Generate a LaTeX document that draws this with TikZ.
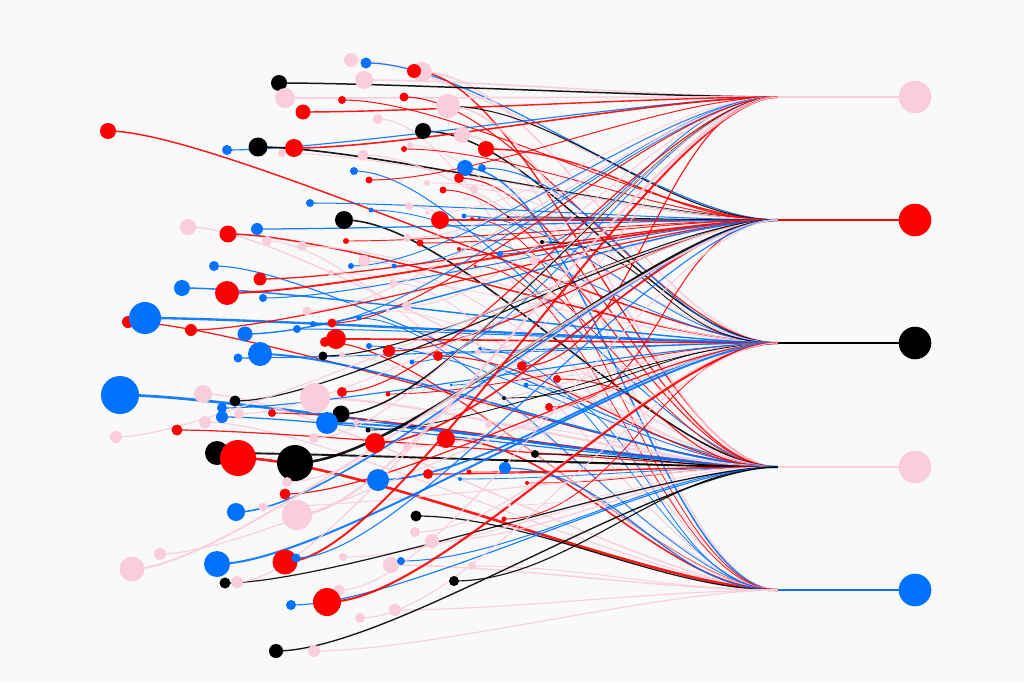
\documentclass[tikz,border=0pt]{standalone}
\definecolor{bgc}{RGB}{249,249,249}
\definecolor{cred}{RGB}{255,0,0}
\definecolor{cblue}{RGB}{0,114,255}
\definecolor{cpink}{RGB}{249,205,218}
\definecolor{cblack}{RGB}{0,0,0}
\pgfdeclarelayer{bg}
\pgfsetlayers{bg,main}
\begin{document}
\begin{tikzpicture}[x=1pt,y=-1pt,
  dot/.style={circle,inner sep=0pt,minimum size=#1*2pt,draw=none},
  link/.style={line width=#1pt,opacity=0.9},
  hub/.style={line width=1.7pt}]
\begin{pgfonlayer}{bg}
\fill[bgc] (0,0) rectangle (1024,682);
\end{pgfonlayer}
\useasboundingbox (0,0) rectangle (1024,682);
% junctions and targets
\foreach \yy/\cc [count=\k] in {97/cpink,220/cred,343/cblack,467/cpink,590/cblue}{
  \coordinate (j\k) at (778,\yy);
  \node[dot=16.3,fill=\cc] (t\k) at (915,\yy) {};
  \draw[\cc,hub] (j\k) -- (t\k);
}
% sources
\foreach \xx/\yy/\rr/\cc/\tg [count=\n] in {
351/60/7/cpink/2, 366/63/5.5/cblue/2, 364/80/9/cpink/1, 422/72/10/cpink/3, 414/71/7/cred/4,
279/83/8/cblack/1, 285/98/10/cpink/1, 303/112/7.5/cred/1, 342/100/4/cred/2, 404/97/4.5/cred/3,
446/106/4/cblack/2, 448/106/12/cpink/4, 378/119/5/cpink/5, 423/131/8/cblack/3, 462/135/8/cpink/5,
108/131/8/cred/3, 227/150/5/cblue/1, 258/147/9.5/cblack/2, 294/148/9/cred/1, 282/153/4/cpink/2,
410/145/3/cpink/4, 404/149/3/cred/2, 486/149/8/cred/2, 363/155/5.5/cpink/3, 354/171/4/cblue/4,
465/168/8/cblue/5, 482/168/4/cblue/3, 369/180/3.5/cred/1, 459/178/5/cred/4, 427/183/3/cpink/2,
474/189/4/cpink/3, 443/190/3.5/cred/4, 310/203/4/cblue/2, 409/206/4/cpink/5, 427/213/2/cpink/1,
371/210/2.5/cblue/3, 344/220/9/cblack/4, 440/220/9/cred/2, 464/216/2.5/cblue/3, 472/219/2/cred/5,
479/218/1.5/cblue/2, 508/217/1.5/cblack/2, 188/227/8/cpink/4, 228/234/8.5/cred/3, 257/229/6/cblue/2,
267/241/5/cpink/5, 302/246/5/cpink/3, 346/241/3/cred/2, 407/238/4/cpink/1, 420/243/3.5/cred/2,
459/249/2/cred/4, 500/254/3/cblue/1, 542/242/2/cblack/3, 364/261/6/cpink/4, 214/266/5/cblue/4,
351/266/3/cblue/1, 394/266/2.5/cblue/1, 475/266/1.5/cred/5, 534/260/5/cpink/2, 260/279/6.5/cred/2,
331/273/3/cpink/3, 182/288/8/cblue/3, 227/293/12/cred/2, 263/298/4/cblue/2, 393/283/4/cpink/5,
407/306/5/cpink/1, 388/311/2/cpink/4, 307/311/4.5/cpink/1, 128/322/6/cred/4, 145/318/16/cblue/3,
191/330/6/cred/2, 313/324/3/cblue/1, 297/329/4/cblue/3, 359/318/2.5/cblue/5, 332/323/4.5/cred/1,
245/334/7.5/cblue/2, 325/342/5/cred/5, 336/339/10/cred/3, 369/346/3/cblue/4, 389/351/6/cred/2,
260/354/12/cblue/4, 238/358/4.5/cblue/3, 323/356/4.5/cblack/2, 342/355/3/cpink/5, 412/362/2.5/cblue/1,
438/356/5/cred/4, 452/353/2/cblue/3, 480/349/2/cblue/5, 478/352/3/cpink/1, 522/366/5/cred/1,
557/379/4/cred/4, 451/385/1.5/cblue/2, 526/385/2.5/cblue/5, 520/378/2/cpink/3, 120/395/19/cblue/4,
203/394/9/cpink/5, 235/401/5.5/cblack/2, 315/398/15/cpink/4, 342/392/5/cred/1, 388/394/2.5/cred/3,
504/398/2/cblack/3, 549/407/4/cred/2, 222/408/5/cblue/3, 222/417/6/cblue/4, 239/414/5/cpink/2,
272/413/4/cred/4, 341/414/8.5/cblack/1, 205/422/6/cpink/5, 327/423/11/cblue/4, 356/422/3/cpink/3,
488/425/3/cpink/4, 177/430/5.5/cred/4, 116/437/6/cpink/2, 314/438/5/cpink/1, 368/430/2.5/cblack/3,
375/443/10/cred/2, 446/439/9/cred/5, 407/447/4/cpink/3, 535/454/4/cblack/4, 217/453/12/cblack/4,
238/458/18/cred/5, 295/463/18/cblack/2, 506/461/2/cblack/4, 505/468/6/cblue/5, 428/474/5/cred/4,
469/472/2.5/cred/4, 460/479/2/cblue/4, 527/483/2/cred/4, 378/480/11/cblue/3, 287/482/5/cpink/2,
285/494/5.5/cred/3, 236/512/9/cblue/2, 263/507/4.5/cpink/4, 297/515/15/cpink/1, 416/516/5.5/cblack/5,
504/519/2.5/cred/3, 509/505/2/cpink/4, 415/532/5/cpink/3, 432/541/7/cpink/4, 160/554/6/cpink/3,
132/569/12.5/cpink/2, 217/564/13/cblue/3, 285/562/12.5/cred/1, 296/558/4.5/cblue/2, 343/557/4/cpink/4,
391/565/8/cpink/5, 401/561/4/cblue/4, 472/566/4/cpink/5, 225/583/5.5/cblack/4, 237/582/6/cpink/1,
454/581/5/cblack/4, 339/590/5.5/cpink/2, 291/605/5/cblue/4, 327/602/14/cred/3, 395/610/6/cpink/5,
360/618/5/cpink/3, 276/651/7/cblack/4, 314/651/6/cpink/5}{
  \node[dot=\rr,fill=\cc] (c\n) at (\xx,\yy) {};
  \pgfmathsetmacro\ww{0.6+0.11*\rr}
  \begin{pgfonlayer}{bg}
  \draw[\cc,link=\ww] (c\n.center) .. controls +(115,0) and +(-115,0) .. (j\tg);
  \end{pgfonlayer}
}
\end{tikzpicture}
\end{document}
